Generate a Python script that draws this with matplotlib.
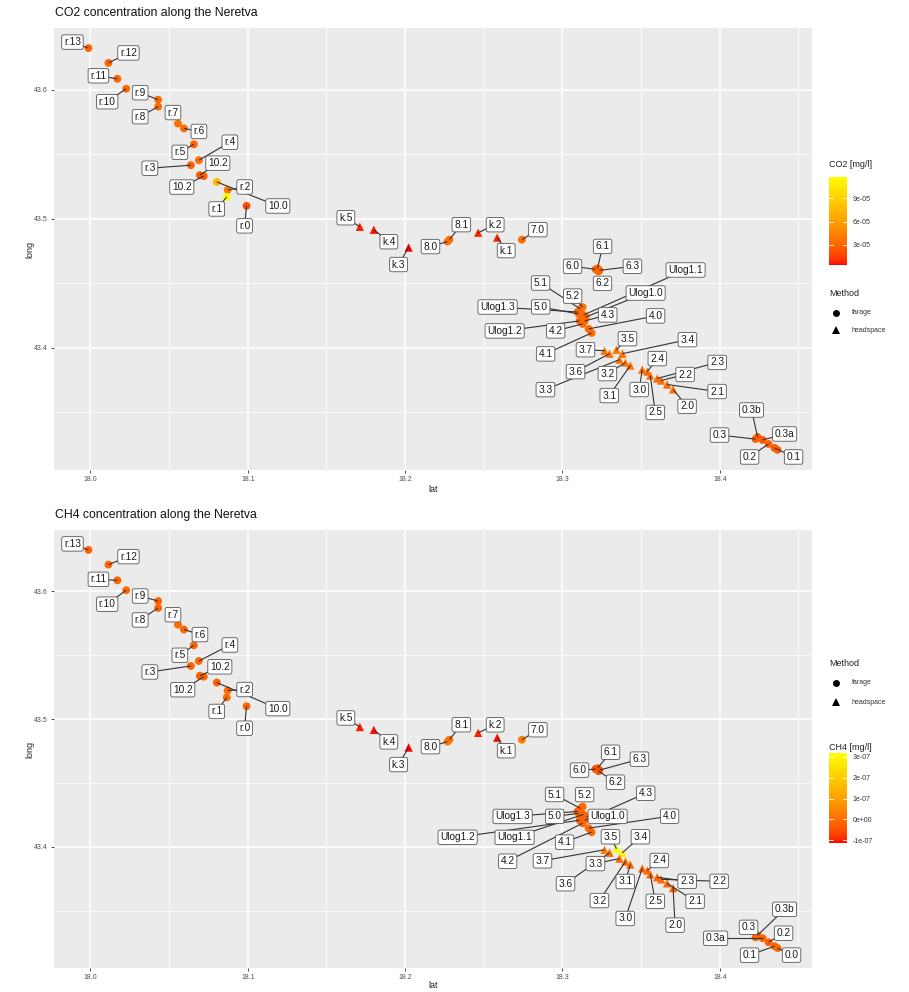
import numpy as np
import matplotlib
matplotlib.use("Agg")
import matplotlib.pyplot as plt
from matplotlib.colors import ListedColormap, Normalize
from matplotlib.lines import Line2D

plt.rcParams['font.family'] = ['Liberation Sans', 'DejaVu Sans']

# ---------------- data ----------------
labels = ["r.13", "r.12", "r.11", "r.10", "r.9", "r.8", "r.7", "r.6", "r.5", "r.4", "r.3",
          "10.2", "10.2", "10.0", "r.2", "r.1", "r.0",
          "k.5", "k.4", "k.3", "8.0", "8.1", "k.2", "k.1", "7.0",
          "6.0", "6.1", "6.2", "6.3",
          "5.1", "5.2", "Ulog1.3", "5.0", "Ulog1.1", "Ulog1.0", "4.3", "Ulog1.2", "4.2", "4.0", "4.1",
          "3.7", "3.6", "3.5", "3.4", "3.3", "3.2", "3.1", "3.0", "2.4", "2.5", "2.3", "2.2", "2.1", "2.0",
          "0.3b", "0.3", "0.3a", "0.2", "0.1", "0.0"]

lat = [17.9987, 18.0114, 18.0171, 18.0227, 18.0430, 18.0430, 18.0556, 18.0594, 18.0657, 18.0689, 18.0638,
       18.0695, 18.0720, 18.0803, 18.0872, 18.0866, 18.0992,
       18.1712, 18.1801, 18.2022, 18.2269, 18.2281, 18.2464, 18.2585, 18.2742,
       18.3210, 18.3223, 18.3229, 18.3235,
       18.3115, 18.3128, 18.3096, 18.3103, 18.3134, 18.3147, 18.3141, 18.3109, 18.3128, 18.3166, 18.3185,
       18.3267, 18.3299, 18.3343, 18.3381, 18.3362, 18.3400, 18.3431, 18.3507, 18.3539, 18.3558, 18.3602,
       18.3627, 18.3665, 18.3703,
       18.4240, 18.4227, 18.4272, 18.4310, 18.4348, 18.4367]

long_ = [43.6323, 43.6208, 43.6085, 43.6008, 43.5923, 43.5869, 43.5738, 43.5700, 43.5577, 43.5454, 43.5415,
         43.5338, 43.5331, 43.5285, 43.5223, 43.5169, 43.5100,
         43.4938, 43.4915, 43.4777, 43.4823, 43.4838, 43.4892, 43.4854, 43.4838,
         43.4608, 43.4615, 43.4592, 43.4600,
         43.4300, 43.4315, 43.4277, 43.4262, 43.4254, 43.4238, 43.4208, 43.4208, 43.4185, 43.4146, 43.4115,
         43.3977, 43.3954, 43.3985, 43.3954, 43.3908, 43.3885, 43.3862, 43.3831, 43.3815, 43.3785, 43.3762,
         43.3746, 43.3715, 43.3677,
         43.3308, 43.3292, 43.3285, 43.3254, 43.3223, 43.3208]

method = (["farage"] * 17 + ["headspace"] * 3 + ["farage"] * 2 + ["headspace"] * 2 + ["farage"]
          + ["farage"] * 4 + ["farage"] * 11 + ["headspace"] * 14 + ["farage"] * 6)

co2 = [3.0e-05, 3.1e-05, 3.0e-05, 3.2e-05, 3.3e-05, 3.1e-05, 3.4e-05, 3.2e-05, 3.0e-05, 3.3e-05, 2.8e-05,
       2.5e-05, 2.6e-05, 7.5e-05, 3.8e-05, 1.17e-04, 1.9e-05,
       0.7e-05, 0.6e-05, 0.43e-05, 3.6e-05, 3.5e-05, 0.8e-05, 0.9e-05, 3.4e-05,
       3.0e-05, 3.1e-05, 2.9e-05, 3.0e-05,
       3.3e-05, 3.5e-05, 3.1e-05, 3.2e-05, 3.0e-05, 3.4e-05, 3.2e-05, 3.0e-05, 3.1e-05, 3.3e-05, 3.2e-05,
       3.9e-05, 3.7e-05, 3.6e-05, 3.5e-05, 3.4e-05, 3.6e-05, 3.4e-05, 3.3e-05, 3.2e-05, 3.4e-05, 3.1e-05,
       3.3e-05, 3.0e-05, 3.5e-05,
       2.6e-05, 2.7e-05, 2.5e-05, 2.8e-05, 2.4e-05, 2.6e-05]

ch4 = [-0.20e-07, -0.15e-07, -0.20e-07, -0.10e-07, -0.15e-07, -0.20e-07, -0.10e-07, -0.15e-07, -0.20e-07, -0.10e-07, -0.20e-07,
       -0.25e-07, -0.20e-07, -0.30e-07, -0.10e-07, -0.05e-07, -0.15e-07,
       -1.05e-07, -1.10e-07, -1.14e-07, 0.20e-07, 0.10e-07, -1.00e-07, -1.10e-07, 0.30e-07,
       -0.50e-07, -0.45e-07, -0.40e-07, -0.50e-07,
       -0.20e-07, -0.10e-07, -0.20e-07, -0.15e-07, -0.20e-07, -0.10e-07, -0.15e-07, -0.20e-07, -0.20e-07, -0.10e-07, -0.15e-07,
       0.20e-07, -0.10e-07, 3.19e-07, 2.80e-07, -0.10e-07, -0.10e-07, -0.15e-07, -0.20e-07, -0.10e-07, -0.15e-07, -0.20e-07,
       -0.10e-07, -0.20e-07, -0.15e-07,
       -0.20e-07, -0.15e-07, -0.20e-07, -0.25e-07, -0.20e-07, -0.15e-07]

co2_ticks = [3e-05, 6e-05, 9e-05]
co2_ticklabels = ["3e-05", "6e-05", "9e-05"]
ch4_ticks = [-1e-07, 0.0, 1e-07, 2e-07, 3e-07]
ch4_ticklabels = ["-1e-07", "0e+00", "1e-07", "2e-07", "3e-07"]
lat_ticks = [18.0, 18.1, 18.2, 18.3, 18.4]
long_ticks = [43.4, 43.5, 43.6]

# ---------------- label layout (pixel offsets, y up) ----------------
co2_label_offsets = [(-16, 6), (20, 10), (-19, 3), (-19, -13), (-18, 7), (-18, -10), (-5, 11), (15, -3), (-14, -8),
                     (31, 18), (-41, -3), (18, 12), (-22, -11), (61, -24), (17, 3), (-10, -12), (-2, -20),
                     (-14, 9), (15, -12), (-10, -17), (-17, -5), (12, 15), (17, 8), (9, -13), (16, 10),
                     (-23, 3), (5, 22), (4, -12), (33, 4),
                     (-40, 26), (-10, 11), (-80, 5), (-38, 7), (102, 45), (60, 24), (23, 6), (-75, -10), (-27, -7),
                     (67, 13), (-46, -21),
                     (-19, 1), (-34, -18), (11, 11), (65, 14), (-74, -30), (-18, -11), (-21, -30), (-3, -20),
                     (10, 13), (5, -37), (60, 16), (24, 6), (50, -7), (14, -17),
                     (-6, 27), (-36, 4), (22, 6), (-19, -13), (19, -9), None]

ch4_label_offsets = [(-16, 6), (20, 8), (-19, 1), (-19, -14), (-18, 5), (-18, -12), (-5, 10), (16, -5), (-14, -10),
                     (31, 16), (-41, -6), (20, 9), (-21, -13), (61, -26), (17, 1), (-10, -14), (-2, -22),
                     (-14, 9), (15, -12), (-10, -17), (-17, -5), (12, 15), (17, 8), (9, -13), (16, 10),
                     (-16, -1), (13, 16), (17, -11), (40, 11),
                     (-26, 14), (2, 12), (-65, -5), (-24, -3), (-69, -23), (22, 0), (61, 27), (-122, -17), (-75, -38),
                     (81, 12), (-27, -10),
                     (-62, -11), (-44, -31), (-6, 12), (18, 16), (-24, -5), (-26, -39), (-5, -17), (-17, -50),
                     (12, 10), (5, -27), (30, -4), (58, -2), (28, -18), (2, -37),
                     (27, 26), (-7, 10), (-47, 0), (15, 9), (-25, -9), (14, -7)]


# ---------------- colour scale (red -> yellow in Lab, like ggplot) ----------------
def lab_to_rgb(L, a, b):
    fy_ = (L + 16) / 116.0
    fx_ = fy_ + a / 500.0
    fz_ = fy_ - b / 200.0

    def finv(t):
        return np.where(t ** 3 > 0.008856, t ** 3, (t - 16 / 116.0) / 7.787)
    X = 0.95047 * finv(fx_)
    Y = 1.0 * finv(fy_)
    Z = 1.08883 * finv(fz_)
    r = 3.2406 * X - 1.5372 * Y - 0.4986 * Z
    g = -0.9689 * X + 1.8758 * Y + 0.0415 * Z
    bb = 0.0557 * X - 0.2040 * Y + 1.0570 * Z

    def gam(c):
        c = np.clip(c, 0, 1)
        return np.where(c <= 0.0031308, 12.92 * c, 1.055 * c ** (1 / 2.4) - 0.055)
    return np.stack([gam(r), gam(g), gam(bb)], axis=-1)


tt = np.linspace(0, 1, 256)
red_lab = np.array([53.24, 80.09, 67.20])
yel_lab = np.array([97.14, -21.55, 94.48])
labs = red_lab[None, :] * (1 - tt[:, None]) + yel_lab[None, :] * tt[:, None]
cmap = ListedColormap(np.clip(lab_to_rgb(labs[:, 0], labs[:, 1], labs[:, 2]), 0, 1))

# ---------------- figure ----------------
W, H = 909, 992
fig = plt.figure(figsize=(W / 100, H / 100), dpi=100)


def rect(l, t, r, b):
    return [l / W, 1 - b / H, (r - l) / W, (b - t) / H]


def fx(px):
    return px / W


def fy(py):
    return 1 - py / H


lat_a = np.array(lat)
long_a = np.array(long_)
meth_a = np.array(method)


def expand(v):
    lo, hi = v.min(), v.max()
    d = (hi - lo) * 0.05
    return lo - d, hi + d


def panel(box, values, vmin, vmax, offsets, title, title_y):
    l, t, r, b = box
    ax = fig.add_axes(rect(l, t, r, b))
    ax.set_facecolor('#EBEBEB')
    for s in ax.spines.values():
        s.set_visible(False)
    xl = expand(lat_a)
    yl = expand(long_a)
    ax.set_xticks(lat_ticks)
    ax.set_xticklabels([f"{v:.1f}" for v in lat_ticks])
    ax.set_yticks(long_ticks)
    ax.set_yticklabels([f"{v:.1f}" for v in long_ticks])
    ax.set_xticks([18.05, 18.15, 18.25, 18.35, 18.45], minor=True)
    ax.set_yticks([43.35, 43.45, 43.55], minor=True)
    ax.set_xlim(*xl)
    ax.set_ylim(*yl)
    ax.grid(which='major', color='white', lw=1.1)
    ax.grid(which='minor', color='white', lw=0.55)
    ax.set_axisbelow(True)
    ax.tick_params(which='major', length=2.5, width=0.6, color='#333333', labelsize=5,
                   labelcolor='#4D4D4D', pad=2)
    ax.tick_params(which='minor', length=0)

    norm = Normalize(vmin, vmax)
    vals = np.array(values)
    circ = meth_a == "farage"
    tri = ~circ
    ax.scatter(lat_a[circ], long_a[circ], c=cmap(norm(vals[circ])), s=32, marker='o',
               linewidths=0, zorder=3)
    ax.scatter(lat_a[tri], long_a[tri], c=cmap(norm(vals[tri])), s=36, marker='^',
               linewidths=0, zorder=3)

    # pixel -> data scale
    sx = (xl[1] - xl[0]) / (r - l)
    sy = (yl[1] - yl[0]) / (b - t)
    for i, lab in enumerate(labels):
        off = offsets[i]
        if off is None:
            continue
        dx, dy = off
        px = lat_a[i] + dx * sx
        py = long_a[i] + dy * sy
        if np.hypot(dx, dy) > 13:
            ax.plot([lat_a[i], px], [long_a[i], py], color='#333333', lw=0.8, zorder=4,
                    solid_capstyle='butt')
        ax.text(px, py, lab, ha='center', va='center', fontsize=7.3, color='#1a1a1a', zorder=5,
                bbox=dict(boxstyle='round,pad=0.22,rounding_size=0.2', fc='white',
                          ec='#555555', lw=0.6))
    fig.text(fx(l + 1), fy(title_y), title, ha='left', va='center', fontsize=8.8, color='#111111')
    fig.text(fx(30), fy((t + b) / 2), 'long', rotation=90, ha='center', va='center',
             fontsize=6.5, color='#222222')
    return ax


ax1 = panel((54, 28, 812, 470), co2, 0.43e-05, 1.17e-04, co2_label_offsets,
            'CO2 concentration along the Neretva', 13)
fig.text(fx(433), fy(490), 'lat', ha='center', va='center', fontsize=6.5, color='#222222')

ax2 = panel((54, 530, 812, 968), ch4, -1.14e-07, 3.19e-07, ch4_label_offsets,
            'CH4 concentration along the Neretva', 515)
fig.text(fx(433), fy(986), 'lat', ha='center', va='center', fontsize=6.5, color='#222222')


def colorbar(title, title_y, top, bottom, vmin, vmax, ticks, ticklabels):
    cax = fig.add_axes(rect(829, top, 847, bottom))
    grad = np.linspace(vmin, vmax, 256).reshape(-1, 1)
    cax.imshow(grad, aspect='auto', origin='lower', cmap=cmap, extent=[0, 1, vmin, vmax],
               vmin=vmin, vmax=vmax)
    cax.set_xlim(0, 1)
    cax.set_ylim(vmin, vmax)
    for s in cax.spines.values():
        s.set_visible(False)
    cax.set_xticks([])
    cax.yaxis.tick_right()
    cax.set_yticks(ticks)
    cax.set_yticklabels(ticklabels)
    cax.set_ylim(vmin, vmax)
    cax.tick_params(axis='y', length=0, labelsize=5, labelcolor='#333333', pad=4)
    for tv in ticks:
        cax.plot([0, 0.2], [tv, tv], color='white', lw=0.6)
        cax.plot([0.8, 1], [tv, tv], color='white', lw=0.6)
    fig.text(fx(829), fy(title_y), title, ha='left', va='center', fontsize=6.5, color='#222222')


def method_legend(title_y, y1, y2):
    fig.text(fx(829), fy(title_y), 'Method', ha='left', va='center', fontsize=6.5, color='#222222')
    fig.add_artist(Line2D([fx(836)], [fy(y1)], marker='o', markersize=5, color='black',
                          markeredgewidth=0, transform=fig.transFigure))
    fig.add_artist(Line2D([fx(836)], [fy(y2)], marker='^', markersize=5.5, color='black',
                          markeredgewidth=0, transform=fig.transFigure))
    fig.text(fx(852), fy(y1), 'farage', ha='left', va='center', fontsize=5, color='#333333')
    fig.text(fx(852), fy(y2), 'headspace', ha='left', va='center', fontsize=5, color='#333333')


colorbar('CO2 [mg/l]', 165, 177, 265, 0.43e-05, 1.17e-04, co2_ticks, co2_ticklabels)
method_legend(293, 313, 330)
method_legend(663, 683, 702)
colorbar('CH4 [mg/l]', 748, 753, 843, -1.14e-07, 3.19e-07, ch4_ticks, ch4_ticklabels)

fig.savefig('out.png', dpi=100, facecolor='white')
